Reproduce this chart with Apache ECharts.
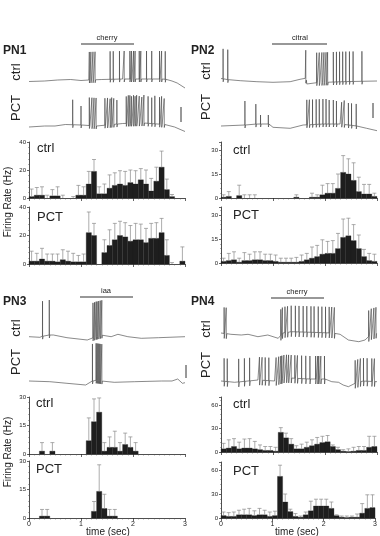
<!DOCTYPE html>
<html>
<head>
<meta charset="utf-8">
<script src="https://cdn.jsdelivr.net/npm/echarts@6/dist/echarts.min.js"></script>
<style>html,body{margin:0;background:#fff}#c{width:380px;height:536px}</style>
</head>
<body>
<div id="c"></div>
<script>
// histogram bins: 30 x 0.1 s, rate (Hz) and top of error bar
var binWidth = 0.1;
var timeTicks = [0, 1, 2, 3];

var pn1CtrlRate = [1,2,2,0,1.5,1.5,0,0,0,2,2,10,19,3,3,7,9,10,9,11,10,13,10,5,12,22,6,1,0,0];
var pn1CtrlHi   = [6.4,7.5,8,2,6,8,2,0,1,9,8,19,27.5,8,10,16.5,18,19.5,19,20,19.5,21,20,14,22,33.5,13.5,2.5,0,0];
var pn1PctRate  = [2,2,3.5,2,2,1.5,3,2,1.5,1.5,1.5,22,20,0,8,13,17,20,19,16,17,17,15,18,18,22,6,0,0,2];
var pn1PctHi    = [9,7.5,11,7,7,7,10,9,7.5,6,7,36.5,28.5,0,17,24,28.5,30,29,27,28.5,28,25,28.5,29,32,17,1,0,12];

var pn2CtrlRate = [0.5,1,0,1.5,0,0,0,0,0,0,0,0,0,0,0.5,0,0,0.5,0.5,2,3,3,6,16,15,11,4,2.5,2.5,1];
var pn2CtrlHi   = [2,4,0,8,2,2,2,0,0,0,0,0,0,0,2,0,0,3,2,8,9,9,15,26.5,24.5,22,13,8.5,8.5,3];
var pn2PctRate  = [1,1.5,2,0.5,1.5,1.5,2,2,1.5,1.5,1,0.5,0.5,0.5,0.5,1,2,3,4,5.5,6,6,9,16,17,14,9,4,1.5,1];
var pn2PctHi    = [3,6,7,3,6.5,5.5,7,7,5.5,5.5,5,3,3,3,3.5,5,6,10,11,14.5,13.5,14,18.5,27.5,28,24,17.5,8.5,6,5.5];

var pn3CtrlRate = [0,0,1.5,0,1.5,0,0,0,0,0,0,7,17,22,1.5,3.5,3.5,1.5,5,3.5,1.5,0,0,0,0,0,0,0,0,0];
var pn3CtrlHi   = [0,0,6,0,6,0,0,0,0,0,0,19,29,29.5,6,9,12,6,11,9,6,0,0,0,0,0,0,0,0,0];
var pn3PctRate  = [0,0,1,1,0,0,0,0,0,0,0,0,3.5,14,5,1,1,0,0,0,0,0,0,0,0,0,0,0,0,0];
var pn3PctHi    = [0,0,4.5,4.5,0,0,0,0,0,0,0,0,8.7,28,12.5,4.5,4.5,0,0,0,0,0,0,0,0,0,0,0,0,0];

var pn4CtrlRate = [4,5,7,4,5,5,4,3,2,2,1,25,18,10,4,4,6,8,10,12,13,7,3,1,0.5,1,2,2,6,7];
var pn4CtrlHi   = [11,15.5,17,12.5,16.5,17,13.5,9,7,7,6,31,24,17,8,10,12.5,15.5,18.5,20,21,9,6,3,4,6,7,7,20,20];
var pn4PctRate  = [3,2,2,4,4,4,3,4,4,2,3,52,20,8,2,1,4,9,15,15,15,12,3,1,0.5,1,1,6,12,13];
var pn4PctHi    = [7.5,6.7,7.5,9.7,11,12,9,12,9.7,7.5,8.5,66,30,11,5.5,2.5,7.5,21,23.5,23.5,23.5,20,4,2.5,2.5,2.5,5,18,29,29];

// membrane traces: baseline [t (s), mV rel.] and spikes [t (s), height]
var pn1CtrlBase = [[0,-1.5],[0.3,-1],[0.55,0],[0.8,0.5],[1.0,-0.5],[1.15,0],[1.4,0.5],[1.8,1],[2.2,1],[2.6,1],[2.75,-1],[2.85,-3],[3,-8]];
var pn1CtrlSpikes = [[1.16,28],[1.19,28],[1.23,28],[1.27,28],[1.56,28],[1.62,28],[1.74,28],[1.83,28],[1.94,28],[1.97,28],[2.01,28],[2.04,28],[2.12,28],[2.15,28],[2.26,28],[2.36,28],[2.51,28],[2.55,28],[2.62,28]];
var pn1PctBase = [[0,-2],[0.3,-1],[0.5,-1],[0.7,0.5],[1.0,0],[1.3,-1],[1.6,0.5],[1.8,1.5],[2.2,2],[2.6,0.5],[2.8,-2],[3,-6.5]];
var pn1PctSpikes = [[0.84,25],[1.0,19],[1.16,28],[1.21,28],[1.25,28],[1.29,28],[1.46,27],[1.51,27],[1.56,26],[1.59,27],[1.63,26],[1.69,24],[1.87,27],[1.91,28],[1.94,28],[1.97,27],[2.01,28],[2.04,27],[2.07,28],[2.12,27],[2.17,26],[2.21,28],[2.29,27],[2.36,26],[2.42,28],[2.51,27],[2.55,28],[2.6,26]];

var pn2CtrlBase = [[0,1.5],[0.17,0],[0.37,-0.7],[0.69,-1.7],[1.0,-2.3],[1.33,-1.7],[1.52,0.7],[1.62,1.7],[1.65,-4],[1.84,-2.7],[2.3,-1.7],[3,-1]];
var pn2CtrlSpikes = [[0.04,30],[0.13,30],[1.63,30],[1.84,30],[1.89,30],[1.94,30],[1.98,30],[2.02,30],[2.05,30],[2.16,30],[2.22,30],[2.28,30],[2.34,30],[2.4,30],[2.47,30],[2.54,30],[2.71,30]];
var pn2PctBase = [[0,0],[0.46,1],[0.69,2],[0.91,2],[1.0,-1.3],[1.33,-2.3],[1.58,1],[1.97,2],[2.29,2],[2.61,0],[2.8,-2.3],[3,-4.7]];
var pn2PctSpikes = [[0.46,24],[0.67,20],[0.76,9],[0.91,9],[1.65,25],[1.7,25],[1.76,25],[1.83,25],[1.89,25],[1.96,25],[2.02,25],[2.08,24],[2.16,24],[2.22,23],[2.32,22],[2.37,24],[2.45,22],[2.51,22],[2.6,22]];

var pn3CtrlBase = [[0,0.3],[0.21,-0.3],[0.31,2],[0.47,2],[0.73,-0.7],[1.12,-3],[1.29,0.3],[1.42,2],[1.58,0.3],[1.71,2.7],[1.9,0.3],[2.16,-1.3],[2.49,-0.7],[3,0.3]];
var pn3CtrlSpikes = [[0.26,35],[0.39,35],[1.23,35],[1.26,35],[1.29,35],[1.31,35],[1.34,35],[1.37,35],[1.4,35]];
var pn3PctBase = [[0,1],[0.4,0.3],[0.73,-1.3],[1.09,-3],[1.25,2],[1.38,1],[1.64,-0.3],[2.03,0.3],[2.55,1],[2.75,1],[2.86,3],[2.95,-1.3],[3,-0.7]];
var pn3PctSpikes = [[1.22,37],[1.29,37],[1.31,37],[1.33,37],[1.35,37],[1.37,37],[1.4,37]];

var pn4CtrlBase = [[0,0],[0.19,-1.3],[0.39,-2],[0.52,-1.3],[0.71,-3.7],[0.9,-2],[1.1,-5.3],[1.19,0],[1.35,1.3],[1.74,0.7],[2.13,0],[2.29,-1.3],[2.45,-7],[2.65,-8.7],[2.77,-7],[2.87,-2],[3,0]];
var pn4CtrlSpikes = [[0.06,26],[0.1,26],[1.15,26],[1.18,26],[1.23,26],[1.28,26],[1.35,26],[1.43,26],[1.5,26],[1.58,26],[1.65,26],[1.73,26],[1.79,26],[1.87,26],[1.94,26],[2.01,26],[2.08,26],[2.13,26],[2.18,26],[2.84,26],[2.89,26],[2.94,26],[2.98,26]];
var pn4PctBase = [[0,-1],[0.26,-2.3],[0.71,0],[1.03,-1],[1.23,2.3],[1.68,1],[2.0,1],[2.13,-1.7],[2.26,-2.3],[2.35,-5],[2.45,-6.7],[2.58,-3.3],[2.71,-1],[3,-1.7]];
var pn4PctSpikes = [[0.06,23],[0.12,23],[0.34,23],[0.45,23],[0.55,23],[0.74,23],[0.79,23],[0.85,23],[0.92,23],[1.06,23],[1.11,23],[1.15,23],[1.17,23],[1.21,23],[1.26,23],[1.3,23],[1.35,23],[1.42,23],[1.47,23],[1.55,23],[1.63,23],[1.71,23],[1.82,23],[1.86,23],[1.88,23],[1.92,23],[1.99,23],[2.58,23],[2.63,23],[2.68,23],[2.74,23],[2.81,23],[2.9,23],[2.95,23]];

var chart = echarts.init(document.getElementById('c'));
var grids = [], xAxes = [], yAxes = [], series = [];
var FONT = 'Liberation Sans, Arial, sans-serif';

function baseAt(base, t) {
  for (var i = 1; i < base.length; i++) {
    if (t <= base[i][0]) {
      var a = base[i - 1], b = base[i];
      return a[1] + (b[1] - a[1]) * (t - a[0]) / (b[0] - a[0]);
    }
  }
  return base[base.length - 1][1];
}

function traceData(base, spikes, ahp) {
  var pts = base.map(function (p) { return [p[0], p[1]]; });
  spikes.forEach(function (s) {
    var b = baseAt(base, s[0]);
    pts.push([s[0] - 0.001, b], [s[0], b + s[1]], [s[0] + 0.002, b - ahp], [s[0] + 0.012, b]);
  });
  pts.sort(function (a, b) { return a[0] - b[0]; });
  return pts;
}

function addTrace(left, top, base, spikes, ahp) {
  var k = grids.length;
  grids.push({left: left, top: top, width: 156, height: 50});
  xAxes.push({gridIndex: k, type: 'value', min: 0, max: 3, show: false});
  yAxes.push({gridIndex: k, type: 'value', min: -10, max: 40, show: false});
  series.push({
    type: 'line', xAxisIndex: k, yAxisIndex: k, data: traceData(base, spikes, ahp),
    symbol: 'none', silent: true, lineStyle: {color: '#3a3a3a', width: 0.6}
  });
}

function addHist(left, top, height, rate, hi, ymax, step, showX) {
  var k = grids.length;
  grids.push({left: left, top: top, width: 156, height: height});
  xAxes.push({
    gridIndex: k, type: 'value', min: 0, max: 3, interval: 1,
    axisLine: {lineStyle: {color: '#222', width: 0.8}},
    axisTick: {length: 3, lineStyle: {color: '#222', width: 0.7}},
    minorTick: {show: true, splitNumber: 10, length: 1.5, lineStyle: {color: '#555', width: 0.5}},
    splitLine: {show: false},
    axisLabel: {show: showX, fontSize: 7, color: '#222', margin: 3, fontFamily: FONT,
      formatter: function (v) { return timeTicks.indexOf(v) >= 0 ? String(v) : ''; }}
  });
  yAxes.push({
    gridIndex: k, type: 'value', min: 0, max: ymax, interval: step,
    axisLine: {show: true, lineStyle: {color: '#222', width: 0.8}},
    axisTick: {show: true, length: 2, lineStyle: {color: '#222', width: 0.7}},
    minorTick: {show: true, splitNumber: 5, length: 1, lineStyle: {color: '#666', width: 0.5}},
    splitLine: {show: false},
    axisLabel: {fontSize: 6, color: '#222', margin: 3, fontFamily: FONT,
      formatter: function (v) { return v % step === 0 ? String(v) : ''; }}
  });
  var data = rate.map(function (v, i) { return [i * binWidth, (i + 1) * binWidth, v, hi[i]]; });
  series.push({
    type: 'custom', xAxisIndex: k, yAxisIndex: k, data: data, silent: true,
    encode: {x: [0, 1], y: [2, 3]},
    renderItem: function (params, api) {
      var p0 = api.coord([api.value(0), 0]);
      var p1 = api.coord([api.value(1), api.value(2)]);
      var ph = api.coord([api.value(0), api.value(3)]);
      var xc = (p0[0] + p1[0]) / 2;
      var kids = [];
      if (api.value(2) > 0) {
        kids.push({type: 'rect', shape: {x: p0[0], y: p1[1], width: p1[0] - p0[0], height: p0[1] - p1[1]},
          style: {fill: '#1e1e1e', stroke: '#1e1e1e', lineWidth: 0.3}});
      }
      if (api.value(3) > api.value(2)) {
        kids.push({type: 'line', shape: {x1: xc, y1: p1[1], x2: xc, y2: ph[1]}, style: {stroke: '#8a8a8a', lineWidth: 0.7}});
        kids.push({type: 'line', shape: {x1: xc - 2, y1: ph[1], x2: xc + 2, y2: ph[1]}, style: {stroke: '#8a8a8a', lineWidth: 0.7}});
      }
      return {type: 'group', children: kids};
    }
  });
}

// traces
addTrace(29, 40, pn1CtrlBase, pn1CtrlSpikes, 3);
addTrace(29, 85, pn1PctBase, pn1PctSpikes, 3);
addTrace(221, 40, pn2CtrlBase, pn2CtrlSpikes, 3);
addTrace(221, 86, pn2PctBase, pn2PctSpikes, 3);
addTrace(29, 297, pn3CtrlBase, pn3CtrlSpikes, 3);
addTrace(29, 342, pn3PctBase, pn3PctSpikes, 3);
addTrace(221, 293, pn4CtrlBase, pn4CtrlSpikes, 5);
addTrace(221, 340, pn4PctBase, pn4PctSpikes, 5);

// histograms
addHist(29, 142, 56, pn1CtrlRate, pn1CtrlHi, 40, 20, false);
addHist(29, 207, 57, pn1PctRate, pn1PctHi, 40, 20, false);
addHist(221, 142, 56, pn2CtrlRate, pn2CtrlHi, 35, 15, false);
addHist(221, 207, 56, pn2PctRate, pn2PctHi, 35, 15, false);
addHist(29, 397, 57, pn3CtrlRate, pn3CtrlHi, 30, 15, false);
addHist(29, 461, 57, pn3PctRate, pn3PctHi, 30, 15, true);
addHist(221, 397, 55, pn4CtrlRate, pn4CtrlHi, 70, 30, false);
addHist(221, 462, 56, pn4PctRate, pn4PctHi, 70, 30, true);

function txt(x, y, s, size, opts) {
  opts = opts || {};
  return {type: 'text', x: x, y: y, rotation: opts.rot || 0, silent: true,
    style: {text: s, fontSize: size, fontFamily: FONT, fontWeight: opts.bold ? 'bold' : 'normal',
      fill: '#222', align: opts.align || 'left', verticalAlign: 'middle'}};
}
function seg(x1, y1, x2, y2, w) {
  return {type: 'line', silent: true, shape: {x1: x1, y1: y1, x2: x2, y2: y2}, style: {stroke: '#333', lineWidth: w || 1}};
}
var R = Math.PI / 2;

var graphics = [
  txt(3, 51, 'PN1', 12, {bold: true}), txt(191, 51, 'PN2', 12, {bold: true}),
  txt(3, 302, 'PN3', 12, {bold: true}), txt(191, 302, 'PN4', 12, {bold: true}),
  txt(16, 72, 'ctrl', 13, {rot: R, align: 'center'}), txt(16, 108, 'PCT', 13, {rot: R, align: 'center'}),
  txt(206, 71, 'ctrl', 13, {rot: R, align: 'center'}), txt(206, 107, 'PCT', 13, {rot: R, align: 'center'}),
  txt(16, 328, 'ctrl', 13, {rot: R, align: 'center'}), txt(16, 362, 'PCT', 13, {rot: R, align: 'center'}),
  txt(206, 329, 'ctrl', 13, {rot: R, align: 'center'}), txt(206, 365, 'PCT', 13, {rot: R, align: 'center'}),
  seg(81, 44, 134, 44, 1.2), txt(107, 38, 'cherry', 7.5, {align: 'center'}),
  seg(272, 44, 327, 44, 1.2), txt(300, 38, 'citral', 7.5, {align: 'center'}),
  seg(80, 297, 133, 297, 1.2), txt(106, 291, 'iaa', 7.5, {align: 'center'}),
  seg(271, 298, 324, 298, 1.2), txt(297, 292, 'cherry', 7.5, {align: 'center'}),
  seg(181, 107, 181, 122, 1), seg(373, 103, 373, 118, 1), seg(186, 365, 186, 378, 1),
  txt(37, 148, 'ctrl', 13), txt(37, 217, 'PCT', 13),
  txt(233, 150, 'ctrl', 13), txt(233, 215, 'PCT', 13),
  txt(36, 403, 'ctrl', 13), txt(36, 469, 'PCT', 13),
  txt(233, 404, 'ctrl', 13), txt(233, 471, 'PCT', 13),
  txt(8, 202, 'Firing Rate (Hz)', 10, {rot: R, align: 'center'}),
  txt(8, 452, 'Firing Rate (Hz)', 10, {rot: R, align: 'center'}),
  txt(108, 532, 'time (sec)', 10, {align: 'center'}),
  txt(297, 532, 'time (sec)', 10, {align: 'center'})
];

chart.setOption({
  animation: false,
  grid: grids,
  xAxis: xAxes,
  yAxis: yAxes,
  series: series,
  graphic: graphics
});
</script>
</body>
</html>
